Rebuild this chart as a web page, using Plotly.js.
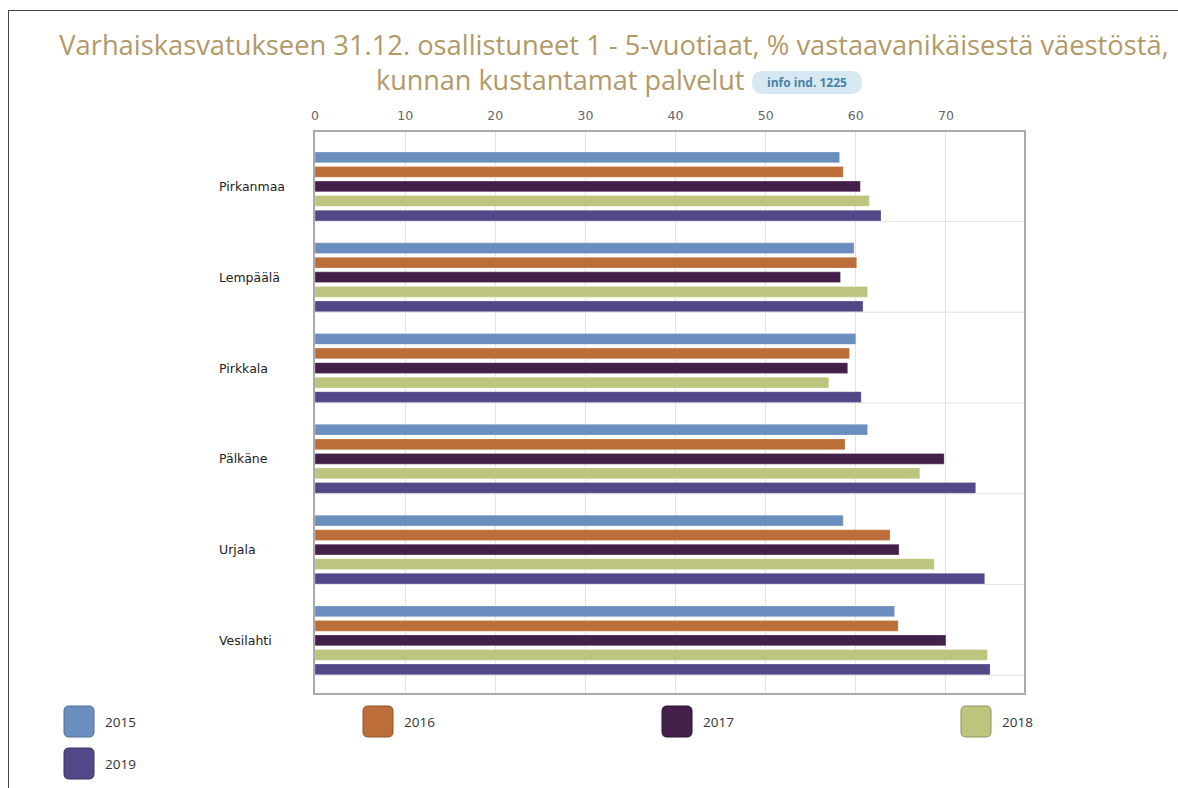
<!DOCTYPE html>
<html>
<head>
<meta charset="utf-8">
<script src="https://cdn.plot.ly/plotly-3.0.1.min.js"></script>
<style>
html,body{margin:0;padding:0;background:#fff;}
#wrap{position:relative;width:1178px;height:788px;}
#chart{width:1178px;height:788px;}
#frame{position:absolute;left:8px;top:10px;width:1170px;height:778px;border-left:1px solid #444;border-top:1px solid #444;pointer-events:none;}
</style>
</head>
<body>
<div id="wrap"><div id="chart"></div><div id="frame"></div></div>
<script>
// ---- data ----
const categories = ["Pirkanmaa", "Lempäälä", "Pirkkala", "Pälkäne", "Urjala", "Vesilahti"];
const years = ["2015", "2016", "2017", "2018", "2019"];
const v2015 = [58.2, 59.8, 60.0, 61.3, 58.6, 64.3];
const v2016 = [58.6, 60.1, 59.3, 58.8, 63.8, 64.7];
const v2017 = [60.5, 58.3, 59.1, 69.8, 64.8, 70.0];
const v2018 = [61.5, 61.3, 57.0, 67.1, 68.7, 74.6];
const v2019 = [62.8, 60.8, 60.6, 73.3, 74.3, 74.9];
const seriesValues = [v2015, v2016, v2017, v2018, v2019];
const colors = ["#6a8ebe", "#bb6e37", "#43204a", "#bcc47e", "#524888"];
const borderColors = ["#4f6f99", "#8f5328", "#2a1130", "#8f965a", "#3a3268"];
const xTicks = [0, 10, 20, 30, 40, 50, 60, 70];
const titleLine1 = "Varhaiskasvatukseen 31.12. osallistuneet 1 - 5-vuotiaat, % vastaavanikäisestä väestöstä,";
const titleLine2 = "kunnan kustantamat palvelut";
const badgeText = "info ind. 1225";

// ---- layout helpers (pixel -> paper) ----
const L = 315, T = 132, W = 709, H = 561;
const px = p => (p - L) / W;
const py = p => (T + H - p) / H;

const traces = years.map((y, i) => ({
  type: "bar",
  orientation: "h",
  name: y,
  x: seriesValues[i],
  y: categories,
  marker: {color: colors[i], line: {color: "rgba(255,255,255,0.5)", width: 0.5}},
  showlegend: false,
  hoverinfo: "x+name"
}));

const shapes = [];
const annotations = [];

// category separators
categories.forEach((c, i) => {
  shapes.push({type: "line", xref: "paper", x0: 0, x1: 1, yref: "y", y0: i + 0.385, y1: i + 0.385,
    line: {color: "#e3e3e3", width: 1}, layer: "below"});
});

// category labels (left aligned)
categories.forEach((c, i) => {
  annotations.push({xref: "paper", x: px(217), xanchor: "left", yref: "y", y: i, yanchor: "middle",
    text: c, showarrow: false, font: {family: "DejaVu Sans, Verdana, sans-serif", size: 12.5, color: "#222"}});
});

// title line 2 and badge
annotations.push({xref: "paper", yref: "paper", x: px(560), y: py(79), xanchor: "center", yanchor: "middle",
  text: titleLine2, showarrow: false, font: {family: "Open Sans, sans-serif", size: 27, color: "#b19a68"}});
(function(){
  const x0 = 752, x1 = 862, y0 = 71, y1 = 94, r = 11.5;
  const X = p => px(p), Y = p => py(p);
  const d = `M ${X(x0 + r)} ${Y(y0)} L ${X(x1 - r)} ${Y(y0)} Q ${X(x1)} ${Y(y0)} ${X(x1)} ${Y((y0 + y1) / 2)} Q ${X(x1)} ${Y(y1)} ${X(x1 - r)} ${Y(y1)} L ${X(x0 + r)} ${Y(y1)} Q ${X(x0)} ${Y(y1)} ${X(x0)} ${Y((y0 + y1) / 2)} Q ${X(x0)} ${Y(y0)} ${X(x0 + r)} ${Y(y0)} Z`;
  shapes.push({type: "path", xref: "paper", yref: "paper", path: d, fillcolor: "#d6e9f3", line: {width: 0}});
  annotations.push({xref: "paper", yref: "paper", x: px(807), y: py(83), xanchor: "center", yanchor: "middle",
    text: "<b>" + badgeText + "</b>", showarrow: false, font: {family: "Open Sans, sans-serif", size: 12, color: "#4a82a6"}});
})();

// manual legend
years.forEach((y, i) => {
  const col = i % 4, row = Math.floor(i / 4);
  const bx0 = 64 + col * 299, bx1 = bx0 + 30;
  const by0 = 706 + row * 42, by1 = by0 + 31;
  const r = 5;
  const X = p => px(p), Y = p => py(p);
  const d = `M ${X(bx0 + r)} ${Y(by0)} L ${X(bx1 - r)} ${Y(by0)} Q ${X(bx1)} ${Y(by0)} ${X(bx1)} ${Y(by0 + r)} L ${X(bx1)} ${Y(by1 - r)} Q ${X(bx1)} ${Y(by1)} ${X(bx1 - r)} ${Y(by1)} L ${X(bx0 + r)} ${Y(by1)} Q ${X(bx0)} ${Y(by1)} ${X(bx0)} ${Y(by1 - r)} L ${X(bx0)} ${Y(by0 + r)} Q ${X(bx0)} ${Y(by0)} ${X(bx0 + r)} ${Y(by0)} Z`;
  shapes.push({type: "path", xref: "paper", yref: "paper", path: d, fillcolor: colors[i], line: {color: borderColors[i], width: 1}});
  annotations.push({xref: "paper", yref: "paper", x: px(bx1 + 9), y: py((by0 + by1) / 2), xanchor: "left", yanchor: "middle",
    text: y, showarrow: false, font: {family: "Open Sans, sans-serif", size: 13.5, color: "#333"}});
});

const layout = {
  width: 1178, height: 788,
  paper_bgcolor: "#fff", plot_bgcolor: "#fff",
  margin: {l: L, r: 1178 - L - W, t: T, b: 788 - T - H, pad: 0},
  title: {text: titleLine1, x: 614 / 1178, xanchor: "center", y: 1 - 45 / 788, yanchor: "middle", xref: "container", yref: "container",
    font: {family: "Open Sans, sans-serif", size: 27.3, color: "#b19a68"}},
  barmode: "group",
  bargap: 0.2,
  bargroupgap: 0.26,
  xaxis: {side: "top", range: [0, 78.66], tickvals: xTicks, ticktext: xTicks.map(String),
    showgrid: true, gridcolor: "#e3e3e3", gridwidth: 1, zeroline: false,
    showline: true, mirror: true, linecolor: "#aaaaaa", linewidth: 2,
    ticks: "", ticklabelstandoff: 5,
    tickfont: {family: "DejaVu Sans, sans-serif", size: 12.5, color: "#666"}, fixedrange: true},
  yaxis: {type: "category", categoryarray: categories, categoryorder: "array", range: [5.58, -0.6],
    showticklabels: false, showgrid: false, zeroline: false,
    showline: true, mirror: true, linecolor: "#aaaaaa", linewidth: 2, ticks: "", fixedrange: true},
  shapes: shapes,
  annotations: annotations,
  showlegend: false
};

Plotly.newPlot("chart", traces, layout, {displayModeBar: false});
</script>
</body>
</html>
